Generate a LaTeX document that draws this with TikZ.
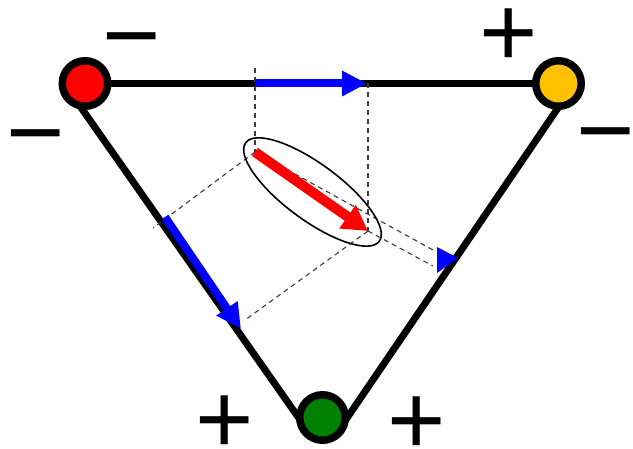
\documentclass[tikz,border=0pt]{standalone}
\usepackage{fontspec}
\setmainfont{Liberation Sans}
\usetikzlibrary{arrows.meta,backgrounds}
\definecolor{cred}{RGB}{255,0,0}
\definecolor{cyel}{RGB}{255,192,0}
\definecolor{cgrn}{RGB}{0,128,0}
\definecolor{cblu}{RGB}{0,0,255}
\definecolor{dgray}{RGB}{60,60,60}
\begin{document}
\begin{tikzpicture}[x=1pt,y=-1pt,
  vertex/.style={circle,draw=black,line width=7.5pt,minimum size=45.5pt,inner sep=0pt},
  edge/.style={line width=7pt,draw=black,shorten <=-6pt,shorten >=-6pt},
  proj/.style={draw=cblu,line width=8pt,-{Triangle[length=25pt,width=24pt]}},
  vec/.style={draw=cred,line width=10pt,-{Triangle[length=25pt,width=27pt]}},
  guide/.style={draw=dgray,line width=1.1pt,dash pattern=on 5pt off 4pt},
  sign/.style={font=\fontsize{100}{100}\selectfont,inner sep=0pt,anchor=base,text height=42pt,text depth=0pt}
]
\useasboundingbox (0,0) rectangle (633,449);

% vertices
\node[vertex,fill=cred] (r) at (85,83.5) {};
\node[vertex,fill=cyel] (y) at (558.5,83.5) {};
\node[vertex,fill=cgrn] (g) at (322.5,417.5) {};

% triangle edges
\begin{scope}[on background layer]
\draw[edge] (r.east) -- (y.west);
\draw[edge] (r.265) -- (g.173);
\draw[edge] (y.266) -- (g.5);
\end{scope}

% named points
\coordinate (s) at (255,152);
\coordinate (t) at (368,231);
\coordinate (u1) at (255,68);
\coordinate (a1) at (255,83.5);
\coordinate (a2) at (367,83.5);
\coordinate (u2) at (368,83.5);
\coordinate (v2) at (368,236);
\coordinate (l1) at (153,228);
\coordinate (l2) at (245,320);
\coordinate (b1) at (165,217);
\coordinate (b2) at (241,329);
\coordinate (q1) at (433,250);
\coordinate (q2) at (433,266);
\coordinate (ec) at (312.5,192);

% dashed guides
\draw[guide] (u1) -- (s);
\draw[guide] (u2) -- (v2);
\draw[guide] (s) -- (l1);
\draw[guide] (t) -- (l2);
\draw[guide] (s) -- (q1);
\draw[guide] (t) -- (q2);

% projected arrows
\draw[proj] (a1) -- (a2);
\draw[proj] (b1) -- (b2);
\fill[cblu] (437,247) -- (458,258) -- (437,273) -- cycle;

% vector
\draw[vec] (s) -- (t);
\draw[line width=1.6pt,rotate around={-36.4:(ec)}] (ec) ellipse[x radius=83pt,y radius=28pt];

% signs
\node[sign] (m1) at (132,70) {−};
\node[sign] (m2) at (36,167) {−};
\node[sign] (p1) at (509,67) {+};
\node[sign] (m3) at (606,165) {−};
\node[sign] (p2) at (225,454) {+};
\node[sign] (p3) at (417,455) {+};
\end{tikzpicture}
\end{document}
